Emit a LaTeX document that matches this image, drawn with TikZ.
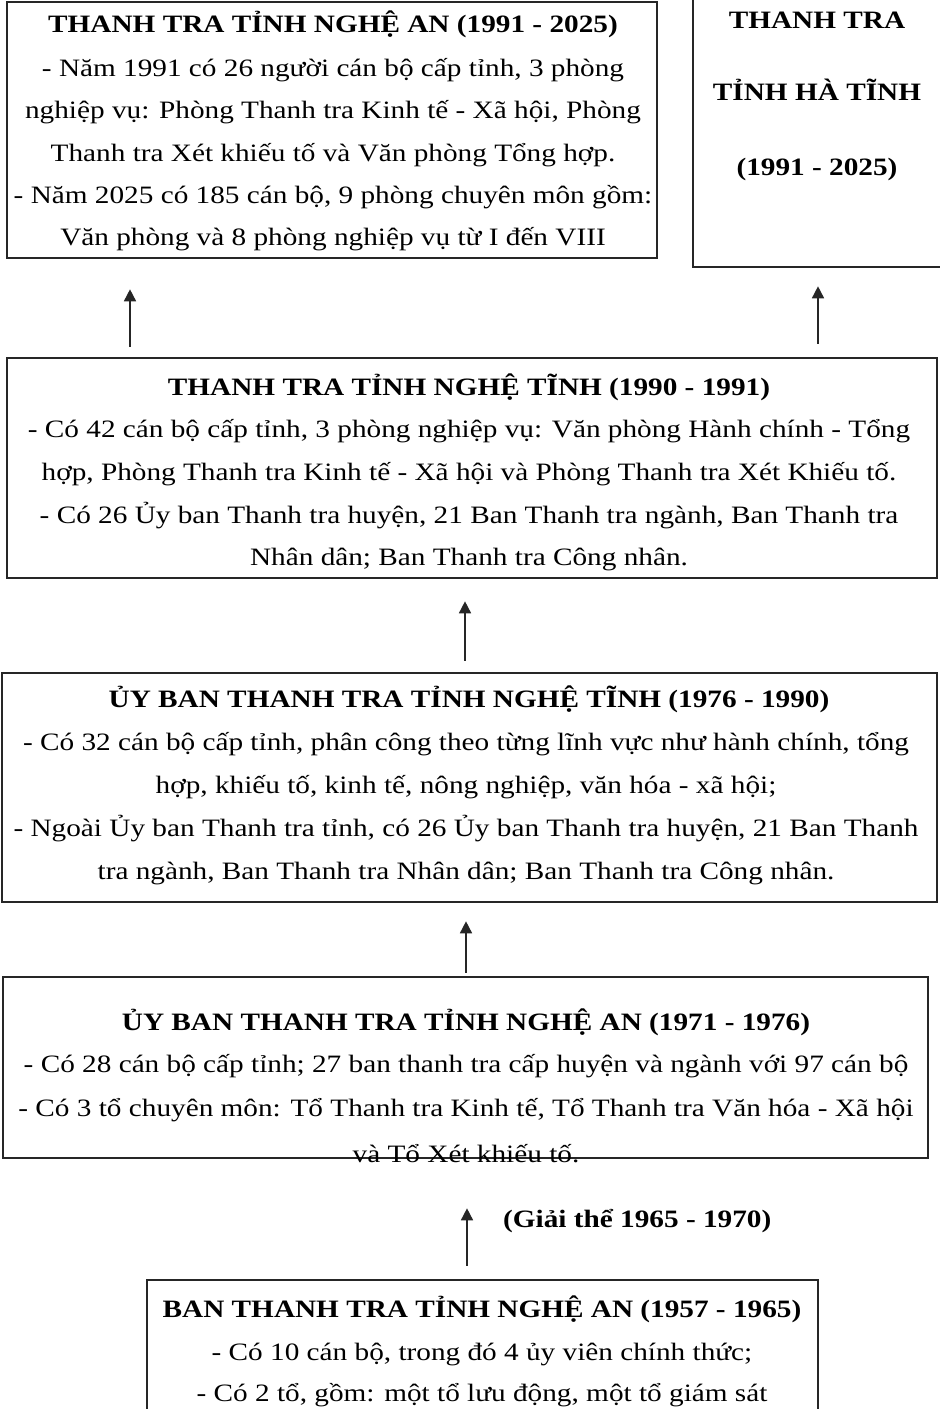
\documentclass[tikz,border=0pt]{standalone}
\usepackage{fontspec}
\setmainfont{Liberation Serif}[FakeStretch=1.17]
\usetikzlibrary{arrows.meta}
\begin{document}
\begin{tikzpicture}[x=1pt,y=-1pt,
  box/.style={draw=black!85, line width=2.6pt, rectangle, inner sep=0pt},
  arr/.style={-{Triangle[length=12pt,width=12pt]}, line width=1.6pt, draw=black!85},
  txt/.style={anchor=base, inner sep=0pt, font=\fontsize{25}{30}\selectfont},
  ttl/.style={anchor=base, inner sep=0pt, font=\bfseries\fontsize{25}{30}\selectfont}]
\useasboundingbox (0,0) rectangle (940,1409);
\fill[white] (0,0) rectangle (940,1409);

% boxes
\node[box, minimum width=650pt, minimum height=256pt] (b1) at (332,130) {};
\node[box, minimum width=252pt, minimum height=287pt] (bht) at (819,123.5) {};
\node[box, minimum width=930pt, minimum height=220pt] (b2) at (472,468) {};
\node[box, minimum width=935pt, minimum height=229pt] (b3) at (469.5,787.5) {};
\node[box, minimum width=925pt, minimum height=181pt] (b4) at (465.5,1067.5) {};
\node[box, minimum width=671pt, minimum height=170pt] (b5) at (482.5,1365) {};

% box 1 text
\node[ttl] (t1a) at (333,32) {THANH TRA TỈNH NGHỆ AN (1991 - 2025)};
\node[txt] (t1b) at (333,76) {- Năm 1991 có 26 người cán bộ cấp tỉnh, 3 phòng};
\node[txt] (t1c) at (333,118) {nghiệp vụ: Phòng Thanh tra Kinh tế - Xã hội, Phòng};
\node[txt] (t1d) at (333,161) {Thanh tra Xét khiếu tố và Văn phòng Tổng hợp.};
\node[txt] (t1e) at (333,203) {- Năm 2025 có 185 cán bộ, 9 phòng chuyên môn gồm:};
\node[txt] (t1f) at (333,245) {Văn phòng và 8 phòng nghiệp vụ từ I đến VIII};

% Ha Tinh box text
\node[ttl] (tha) at (817,28) {THANH TRA};
\node[ttl] (thb) at (817,100) {TỈNH HÀ TĨNH};
\node[ttl] (thc) at (817,175) {(1991 - 2025)};

% box 2 text
\node[ttl] (t2a) at (469,395) {THANH TRA TỈNH NGHỆ TĨNH (1990 - 1991)};
\node[txt] (t2b) at (469,437) {- Có 42 cán bộ cấp tỉnh, 3 phòng nghiệp vụ: Văn phòng Hành chính - Tổng};
\node[txt] (t2c) at (469,480) {hợp, Phòng Thanh tra Kinh tế - Xã hội và Phòng Thanh tra Xét Khiếu tố.};
\node[txt] (t2d) at (469,523) {- Có 26 Ủy ban Thanh tra huyện, 21 Ban Thanh tra ngành, Ban Thanh tra};
\node[txt] (t2e) at (469,565) {Nhân dân; Ban Thanh tra Công nhân.};

% box 3 text
\node[ttl] (t3a) at (469,707) {ỦY BAN THANH TRA TỈNH NGHỆ TĨNH (1976 - 1990)};
\node[txt] (t3b) at (466,750) {- Có 32 cán bộ cấp tỉnh, phân công theo từng lĩnh vực như hành chính, tổng};
\node[txt] (t3c) at (466,793) {hợp, khiếu tố, kinh tế, nông nghiệp, văn hóa - xã hội;};
\node[txt] (t3d) at (466,836) {- Ngoài Ủy ban Thanh tra tỉnh, có 26 Ủy ban Thanh tra huyện, 21 Ban Thanh};
\node[txt] (t3e) at (466,879) {tra ngành, Ban Thanh tra Nhân dân; Ban Thanh tra Công nhân.};

% box 4 text
\node[ttl] (t4a) at (466,1030) {ỦY BAN THANH TRA TỈNH NGHỆ AN (1971 - 1976)};
\node[txt] (t4b) at (466,1072) {- Có 28 cán bộ cấp tỉnh; 27 ban thanh tra cấp huyện và ngành với 97 cán bộ};
\node[txt] (t4c) at (466,1116) {- Có 3 tổ chuyên môn: Tổ Thanh tra Kinh tế, Tổ Thanh tra Văn hóa - Xã hội};
\node[txt] (t4d) at (466,1162) {và Tổ Xét khiếu tố.};

% box 5 text
\node[ttl] (t5a) at (482,1317) {BAN THANH TRA TỈNH NGHỆ AN (1957 - 1965)};
\node[txt] (t5b) at (482,1360) {- Có 10 cán bộ, trong đó 4 ủy viên chính thức;};
\node[txt] (t5c) at (482,1401) {- Có 2 tổ, gồm: một tổ lưu động, một tổ giám sát};

% arrow x positions
\coordinate (xa1) at (130,0);
\coordinate (xa2) at (818,0);
\coordinate (xa3) at (465,0);
\coordinate (xa4) at (466,0);
\coordinate (xa5) at (467,0);

\draw[arr, shorten <=10pt, shorten >=30pt] (b2.north -| xa1) -- (b1.south -| xa1);
\draw[arr, shorten <=13pt, shorten >=18pt] (b2.north -| xa2) -- (bht.south -| xa2);
\draw[arr, shorten <=11pt, shorten >=22pt] (b3.north -| xa3) -- (b2.south -| xa3);
\draw[arr, shorten <=3pt, shorten >=18pt] (b4.north -| xa4) -- (b3.south -| xa4);
\draw[arr, shorten <=13pt, shorten >=49pt] (b5.north -| xa5) -- (b4.south -| xa5);

\node[ttl, anchor=base west] (lbl) at (503,1227) {(Giải thể 1965 - 1970)};
\end{tikzpicture}
\end{document}
